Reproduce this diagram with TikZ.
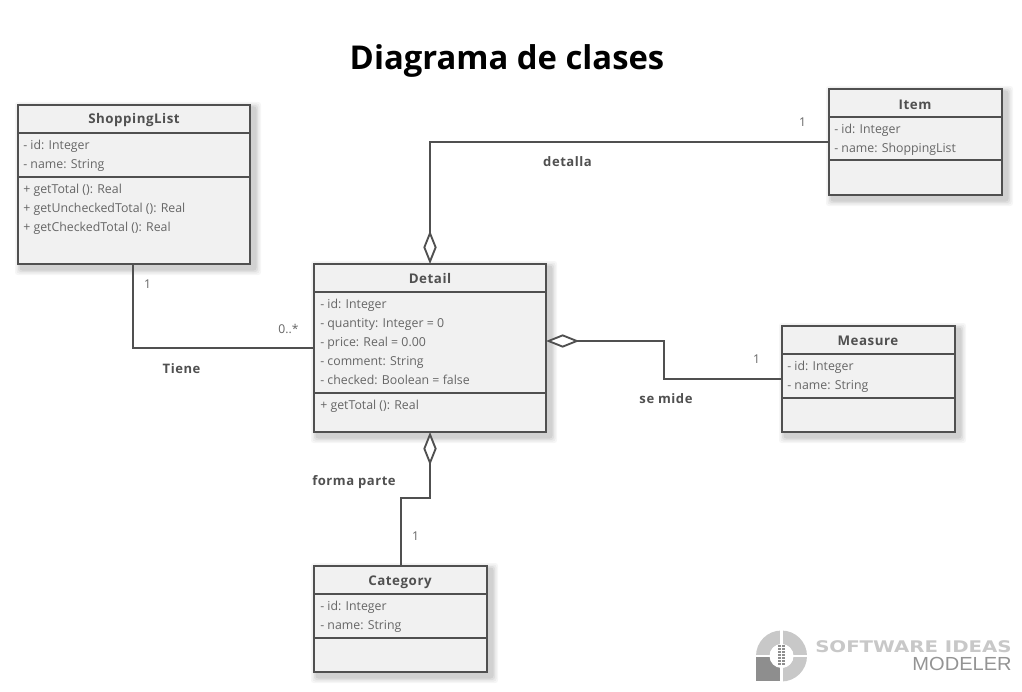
\documentclass[tikz,border=0pt]{standalone}
\usepackage{fontspec}
\setmainfont{Open Sans}
\newfontfamily\logobold{DejaVu Sans}
\newfontfamily\logoreg{Liberation Sans}
\usetikzlibrary{arrows.meta}
\definecolor{ink}{HTML}{505050}
\definecolor{txt}{HTML}{666666}
\definecolor{boxfill}{HTML}{F1F1F1}
\definecolor{logolight}{HTML}{C8C8C8}
\definecolor{logodark}{HTML}{8E8E8E}
\tikzset{
  x=0.75pt,y=-0.75pt,
  umlbox/.style={draw=ink,fill=boxfill,line width=1.6pt,inner sep=0pt,outer sep=0pt},
  rowtext/.style={anchor=base west,inner sep=0pt,text=txt,font=\fontsize{9.25}{11}\selectfont},
  headtext/.style={anchor=base,inner sep=0pt,text=ink,font=\fontsize{10}{11}\selectfont\bfseries\addfontfeature{LetterSpace=4}},
  mult/.style={inner sep=0pt,text=txt,font=\fontsize{9.1}{11}\selectfont},
  assoc/.style={inner sep=0pt,text=ink,font=\fontsize{9.8}{11}\selectfont\bfseries\addfontfeature{LetterSpace=4}},
  conn/.style={draw=ink,line width=1.4pt},
  aggr/.style={conn,{Diamond[open,fill=white,length=25pt,width=10pt,line width=1.4pt]}-},
}
% name, x1,y1,x2,y2, line1, line2
\newcommand{\classbox}[7]{%
  \foreach \s/\o in {7/0.035,5.5/0.04,4/0.05,2.5/0.06}{
    \fill[black,opacity=\o,rounded corners=2pt] (#2+4-\s,#3+4-\s) rectangle (#4+4+\s,#5+4+\s);
  }
  \node[umlbox,anchor=north west,minimum width={(#4-#2)*0.75pt},minimum height={(#5-#3)*0.75pt}] (#1) at (#2,#3) {};
  \draw[ink,line width=1.6pt] (#2,#6) -- (#4,#6) (#2,#7) -- (#4,#7);
}
\begin{document}
\begin{tikzpicture}
\useasboundingbox (0,0) rectangle (1022,692);
\fill[white] (0,0) rectangle (1022,692);

\node[inner sep=0pt,font=\fontsize{24.6}{28}\selectfont\bfseries,text=black] (title) at (507,61) {Diagrama de clases};

\classbox{sl}{18}{105}{250}{264}{133}{177}
\classbox{item}{829}{89}{1002}{195}{117}{160}
\classbox{det}{314}{264}{546}{432}{292}{393}
\classbox{meas}{782}{326}{955}{432}{354}{398}
\classbox{cat}{314}{566}{487}{672}{594}{638}

% ShoppingList
\node[headtext] (sl0) at (134,123) {ShoppingList};
\node[rowtext] (sl1) at (23,149.5) {- id: Integer};
\node[rowtext] (sl2) at (23,168.5) {- name: String};
\node[rowtext] (sl3) at (23,193.5) {+ getTotal (): Real};
\node[rowtext] (sl4) at (23,212.5) {+ getUncheckedTotal (): Real};
\node[rowtext] (sl5) at (23,231.5) {+ getCheckedTotal (): Real};
% Item
\node[headtext] (it0) at (915,109) {Item};
\node[rowtext] (it1) at (834,133.5) {- id: Integer};
\node[rowtext] (it2) at (834,152.5) {- name: ShoppingList};
% Detail
\node[headtext] (de0) at (430,283) {Detail};
\node[rowtext] (de1) at (320,308.5) {- id: Integer};
\node[rowtext] (de2) at (320,327.5) {- quantity: Integer = 0};
\node[rowtext] (de3) at (320,346.5) {- price: Real = 0.00};
\node[rowtext] (de4) at (320,365.5) {- comment: String};
\node[rowtext] (de5) at (320,384.5) {- checked: Boolean = false};
\node[rowtext] (de6) at (320,409.5) {+ getTotal (): Real};
% Measure
\node[headtext] (me0) at (868,345) {Measure};
\node[rowtext] (me1) at (787,370.5) {- id: Integer};
\node[rowtext] (me2) at (787,389.5) {- name: String};
% Category
\node[headtext] (ca0) at (400,585) {Category};
\node[rowtext] (ca1) at (320,610.5) {- id: Integer};
\node[rowtext] (ca2) at (320,629.5) {- name: String};

% Connectors
\draw[conn] ([xshift=-0.75pt]sl.south) |- (det.west);
\draw[aggr] (det.north) |- (item.west);
\draw[aggr] ([yshift=5.25pt]det.east) -- ++(118,0) |- (meas.west);
\draw[aggr] (det.south) -- ++(0,66) -| ([xshift=0.4pt]cat.north);

% Labels
\node[mult] (m1) at (802.5,122.5) {1};
\node[assoc] (a1) at (567.5,162) {detalla};
\node[mult] (m2) at (147.5,284.5) {1};
\node[mult] (m3) at (288.5,328.5) {0..*};
\node[assoc] (a2) at (181.5,368.5) {Tiene};
\node[mult] (m4) at (756.5,359.5) {1};
\node[assoc] (a3) at (666,398.5) {se mide};
\node[assoc] (a4) at (354,482.5) {forma parte};
\node[mult] (m5) at (415.5,536.5) {1};

% Logo
\fill[logolight,even odd rule] (781.5,656) circle[radius=25.5] (781.5,656) circle[radius=12];
\fill[white] (755,656) rectangle (781,682);
\fill[logodark] (756,657) rectangle (780.3,681);
\fill[white] (781.5,656) circle[radius=12];
\fill[white] (780.3,630) rectangle (782.6,682);
\fill[white] (755,655.2) rectangle (808,657);
\foreach \yy in {645,648,651,654,657,660,663}{
  \fill[logodark] (777.7,\yy) rectangle (780.8,\yy+2);
  \fill[logodark] (782.1,\yy) rectangle (785.2,\yy+2);
}
\node[anchor=base east,inner sep=0pt,xscale=1.234,text=logolight,font=\logobold\fontsize{12}{14}\selectfont\bfseries] (lg1) at (1012,652.7) {SOFTWARE IDEAS};
\node[anchor=base east,inner sep=0pt,xscale=1.06,text=black!42,font=\logoreg\fontsize{14.2}{16}\selectfont] (lg2) at (1012,670.7) {MODELER};
\end{tikzpicture}
\end{document}
